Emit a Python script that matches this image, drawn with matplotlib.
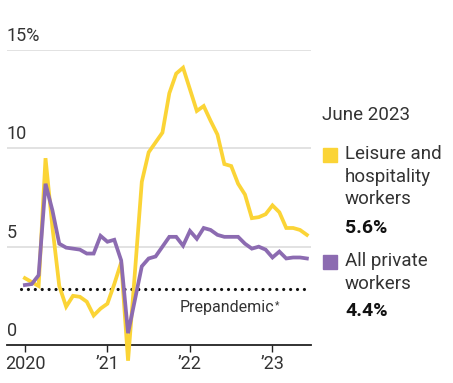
import matplotlib
matplotlib.use("Agg")
import matplotlib.pyplot as plt
import matplotlib.transforms as mtransforms
from matplotlib.patches import Rectangle

plt.rcParams['font.family'] = ['Roboto', 'DejaVu Sans']

# monthly job openings rate, Jan 2020 - Jun 2023 (%)
months = list(range(42))
leisure = [3.4, 3.2, 3.0, 9.5, 6.0, 3.0, 1.95, 2.5, 2.45, 2.2, 1.5, 1.85,
           2.1, 3.1, 4.2, -0.8, 3.7, 8.3, 9.8, 10.3, 10.8, 12.8, 13.8, 14.1,
           13.0, 11.9, 12.15, 11.4, 10.7, 9.2, 9.1, 8.2, 7.65, 6.45, 6.5, 6.65,
           7.1, 6.75, 5.95, 5.95, 5.85, 5.6]
private = [3.05, 3.1, 3.55, 8.2, 6.85, 5.15, 4.95, 4.9, 4.85, 4.65, 4.65, 5.55,
           5.25, 5.35, 4.3, 0.6, 2.3, 4.0, 4.4, 4.5, 5.0, 5.5, 5.5, 5.05,
           5.8, 5.4, 5.95, 5.85, 5.6, 5.5, 5.5, 5.5, 5.15, 4.9, 5.0, 4.85,
           4.45, 4.75, 4.4, 4.45, 4.45, 4.4]
prepandemic = 2.83
yticks = [0, 5, 10, 15]
ylabels = ['0', '5', '10', '15%']
xticks = [0, 12, 24, 36]
xlabels = ['2020', '\u201921', '\u201922', '\u201923']

YELLOW = '#fbd436'
PURPLE = '#8c6bb1'
TXT = '#333333'

fig = plt.figure(figsize=(4.53, 3.83), dpi=100)
ax = fig.add_axes([7 / 453, 38 / 383, 304 / 453, 295 / 383])
ax.set_xlim(-2.6, 41.6)
ax.set_ylim(0, 15)

for v in yticks[1:]:
    ax.axhline(v, color='#dddddd', lw=1.2, zorder=1)
trans = mtransforms.blended_transform_factory(ax.transAxes, ax.transData)
for v, lab in zip(yticks, ylabels):
    ax.text(0, v + 0.25, lab, transform=trans, ha='left', va='bottom',
            fontsize=13, color=TXT)

dots = ax.hlines(prepandemic, -0.6, 40.6, colors='#111111', lw=2.3,
                 linestyles=(0, (0.01, 2.15)), zorder=2)
dots.set_capstyle('round')
ax.text(36.2, prepandemic - 0.55, 'Prepandemic', ha='right', va='top',
        fontsize=11.5, color=TXT)
ax.text(36.3, prepandemic - 0.55, '*', ha='left', va='top',
        fontsize=7.5, color=TXT)

ax.plot(months, leisure, color=YELLOW, lw=2.7, solid_joinstyle='miter',
        clip_on=False, zorder=3)
ax.plot(months, private, color=PURPLE, lw=2.7, solid_joinstyle='miter',
        clip_on=False, zorder=4)

for s in ['top', 'right', 'left']:
    ax.spines[s].set_visible(False)
ax.spines['bottom'].set_color('#222222')
ax.spines['bottom'].set_linewidth(1.3)
ax.spines['bottom'].set_zorder(2)
ax.set_yticks([])
ax.set_xticks(xticks)
ax.set_xticklabels(xlabels)
ax.tick_params(axis='x', length=5, width=1, color='#222222', pad=2,
               labelsize=13, labelcolor=TXT)

# legend on the right
fig.text(322 / 453, 1 - 106 / 383, 'June 2023', ha='left', va='top',
         fontsize=13.5, color=TXT)
fig.patches.append(Rectangle((323 / 453, 1 - 162 / 383), 14 / 453, 14 / 383,
                             transform=fig.transFigure, color=YELLOW))
fig.text(345 / 453, 1 - 145 / 383, 'Leisure and\nhospitality\nworkers',
         ha='left', va='top', fontsize=13.5, color=TXT, linespacing=1.33)
fig.text(345 / 453, 1 - 219 / 383, '5.6%', ha='left', va='top',
         fontsize=14, fontweight='bold', color='#111111')
fig.patches.append(Rectangle((323 / 453, 1 - 269 / 383), 14 / 453, 14 / 383,
                             transform=fig.transFigure, color=PURPLE))
fig.text(345 / 453, 1 - 252 / 383, 'All private\nworkers',
         ha='left', va='top', fontsize=13.5, color=TXT, linespacing=1.33)
fig.text(345 / 453, 1 - 302 / 383, '4.4%', ha='left', va='top',
         fontsize=14, fontweight='bold', color='#111111')

fig.savefig('out.png', dpi=100)
